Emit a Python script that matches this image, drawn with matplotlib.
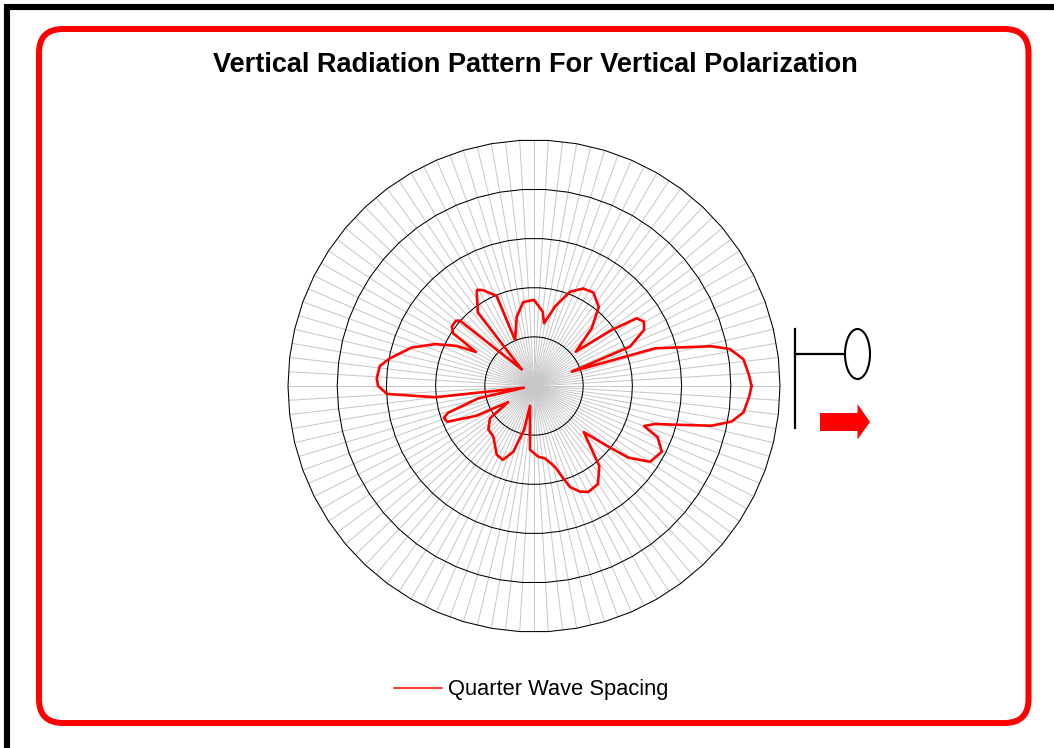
"""
Vertical radiation pattern, polar chart with a red frame around it
"""
import matplotlib
matplotlib.use('Agg')
import matplotlib.pyplot as plt
import numpy as np
from matplotlib.patches import Ellipse, FancyBboxPatch, Polygon

plt.rcParams['font.family'] = ['Liberation Sans', 'DejaVu Sans']

# Data: angle clockwise from the right, level in dB
angles = [0, 2.8, 7.2, 10.2, 12.6, 15.5, 17.4, 20, 22.5, 27.2, 33.1, 37.2, 39.2, 42.8,
          50.8, 56.9, 62.9, 66.5, 70.4, 72.4, 75.4, 81.3, 86.5, 93.6, 101.3, 102.8,
          107.5, 112.9, 118.4, 128.8, 136.5, 143.7, 148.1, 152.6, 157.6, 160.6, 162.7,
          167.5, 170.3, 173.5, 176.9, 180, 182.8, 187.4, 190.9, 197.4, 203, 207.4,
          210.4, 213.1, 215.9, 219.8, 221.4, 233.6, 232.6, 238.7, 239.4, 241.9, 247.5,
          247.6, 256, 262.7, 270, 276.7, 279.1, 284.8, 290.9, 296.8, 302.4, 309.3, 315,
          320.6, 324.2, 326.6, 329.7, 333, 337.7, 339.2, 342.7, 347.4, 349.3, 352.7,
          357.3, 360]
levels = [-5.8, -6.2, -7.1, -9.2, -13.0, -20.6, -24.2, -26.2, -22.8, -20.8, -21.8, -25.9,
          -30.5, -36.2, -29.0, -26.2, -25.8, -26.6, -28.2, -30.3, -33.0, -35.1, -35.6,
          -37.0, -45.9, -40.8, -36.0, -33.7, -34.1, -36.8, -37.2, -38.9, -43.8, -36.9,
          -30.9, -30.6, -31.7, -38.4, -47.9, -29.8, -20.1, -18.3, -18.0, -18.4, -20.2,
          -23.9, -28.2, -32.3, -36.3, -30.4, -29.4, -29.3, -29.9, -45.8, -31.2, -27.6,
          -27.3, -27.9, -30.2, -39.9, -35.5, -32.8, -32.5, -34.8, -37.1, -33.3, -29.5,
          -27.8, -27.5, -29.2, -33.4, -39.0, -30.5, -25.0, -24.1, -24.9, -28.9, -41.8,
          -24.2, -13.0, -9.5, -7.1, -6.2, -5.8]
ring_levels = [-40, -30, -20, -10, 0]
spoke_count = 108
title = 'Vertical Radiation Pattern For Vertical Polarization'
series_name = 'Quarter Wave Spacing'

W, H = 1054, 748
fig = plt.figure(figsize=(W / 100, H / 100), dpi=100)

# Frame and icon, in pixel coordinates
bg = fig.add_axes([0, 0, 1, 1])
bg.set_xlim(0, W)
bg.set_ylim(H, 0)
bg.axis('off')
bg.plot([7, 7], [H, 7], color='black', lw=4.4, solid_capstyle='butt')
bg.plot([4, W], [7, 7], color='black', lw=4.4, solid_capstyle='butt')
bg.add_patch(FancyBboxPatch((63, 53), 941.5, 646, boxstyle='round,pad=24,rounding_size=24',
                            fc='white', ec='red', lw=4.3))
bg.plot([795, 795], [329, 428], color='black', lw=1.6)
bg.plot([795, 845], [354, 354], color='black', lw=1.6)
bg.add_patch(Ellipse((857.5, 354), 25, 50, fc='white', ec='black', lw=1.5))
bg.add_patch(Polygon([(820, 413), (857.5, 413), (857.5, 404), (870, 422), (857.5, 439.5),
                      (857.5, 431), (820, 431)], fc='red', ec='none'))
bg.text(535, 65, title, ha='center', va='center', fontsize=19.5, fontweight='bold',
        color='black')

# Polar chart
ax = fig.add_axes([288 / W, (H - 632) / H, 492 / W, 492 / H], projection='polar')
ax.set_theta_zero_location('E')
ax.set_theta_direction(-1)
ax.patch.set_alpha(0)
ax.spines['polar'].set_visible(False)

spokes = np.deg2rad(np.arange(spoke_count) * 360 / spoke_count)
ax.set_xticks(spokes)
ax.set_xticklabels([])
ax.set_yticks([])
ax.grid(axis='x', color='#c8c8c8', lw=0.72)
ax.tick_params(length=0)

# The rings are polygons, a vertex on every second spoke
ring_t = np.append(spokes[::2], spokes[0])
for lev in ring_levels:
    ax.plot(ring_t, [lev] * len(ring_t), color='black', lw=0.75, zorder=2, clip_on=False,
            solid_capstyle='butt')

ax.plot(np.deg2rad(angles), levels, color='red', lw=1.9, zorder=3, label=series_name,
        solid_joinstyle='round')
ax.set_rlim(-50, 0)

# Legend
handles, labels = ax.get_legend_handles_labels()
leg = fig.legend(handles, labels, loc='center left', bbox_to_anchor=(374.5 / W, 1 - 690 / H),
                 frameon=False, fontsize=15.75, handlelength=2.2, handletextpad=0.28)
leg.get_lines()[0].set_linewidth(1.1)

fig.savefig('out.png', dpi=100)
